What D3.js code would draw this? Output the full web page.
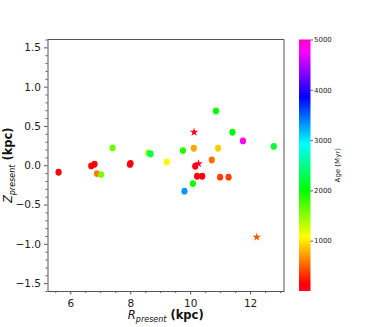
<!DOCTYPE html>
<html>
<head>
<meta charset="utf-8">
<script src="https://cdn.jsdelivr.net/npm/d3@7"></script>
<style>
  body { margin: 0; background: #fff; }
  text { font-family: "DejaVu Sans", sans-serif; }
</style>
</head>
<body>
<svg id="chart" width="382" height="327"></svg>
<script>
// cluster positions
var rValues   = [5.61, 6.70, 6.81, 6.89, 7.03, 7.41, 7.99, 8.01, 8.61, 8.68, 9.22, 9.76, 9.81,
                 10.86, 11.41, 11.76, 12.79, 10.12, 10.93, 10.72, 10.17, 10.23, 10.40, 11.00, 11.28, 10.09];
var zValues   = [-0.089, -0.009, 0.013, -0.106, -0.119, 0.22, 0.010, 0.025, 0.156, 0.144, 0.042, 0.187, -0.33,
                 0.69, 0.42, 0.31, 0.24, 0.216, 0.216, 0.067, -0.013, -0.14, -0.14, -0.152, -0.152, -0.233];
var ageValues = [100, 100, 150, 600, 1550, 1600, 100, 120, 1550, 2250, 1050, 1900, 3300,
                 2000, 2050, 4800, 2200, 750, 900, 550, 50, 100, 150, 380, 380, 1950];

var rStars   = [10.13, 10.28, 12.22];
var zStars   = [0.42, 0.02, -0.915];
var ageStars = [100, 50, 450];

var xTicks = [6, 8, 10, 12];
var yTicks = [-1.5, -1.0, -0.5, 0.0, 0.5, 1.0, 1.5];
var cbTicks = [1000, 2000, 3000, 4000, 5000];

// gist_rainbow
var rainbowStops  = [0.000, 0.030, 0.215, 0.400, 0.586, 0.770, 0.954, 1.000];
var rainbowColors = ["rgb(255,0,41)", "rgb(255,0,0)", "rgb(255,255,0)", "rgb(0,255,0)",
                     "rgb(0,255,255)", "rgb(0,0,255)", "rgb(255,0,255)", "rgb(255,0,191)"];

(function () {

var svg = d3.select("#chart");
var left = 47.5, right = 284, top = 39.5, bottom = 291;

var x = d3.scaleLinear().domain([5.24, 13.13]).range([left, right]);
var y = d3.scaleLinear().domain([-1.6, 1.6]).range([bottom, top]);
var color = d3.scaleLinear()
    .domain(rainbowStops.map(function (s) { return s * 5000; }))
    .range(rainbowColors)
    .clamp(true);

var axisColor = "#555";

// axes
var xAxis = svg.append("g").attr("transform", "translate(0," + bottom + ")")
    .call(d3.axisBottom(x).tickValues(xTicks).tickFormat(d3.format("d")).tickSize(3.5).tickSizeOuter(0));
xAxis.selectAll(".tick text").attr("y", 8.5);
svg.append("g").attr("transform", "translate(0," + bottom + ")")
    .call(d3.axisBottom(x).tickValues(d3.range(5.5, 13.1, 0.5).filter(function (v) { return v % 2 !== 0; }))
        .tickFormat("").tickSize(2).tickSizeOuter(0))
    .select(".domain").remove();

svg.append("g").attr("transform", "translate(" + left + ",0)")
    .call(d3.axisLeft(y).tickValues(yTicks).tickFormat(function (d) { return d3.format(".1f")(d).replace("-", "\u2212"); })
        .tickSize(3.5).tickSizeOuter(0));
svg.append("g").attr("transform", "translate(" + left + ",0)")
    .call(d3.axisLeft(y).tickValues(d3.range(-16, 17).filter(function (v) { return v % 5 !== 0; }).map(function (v) { return v / 10; }))
        .tickFormat("").tickSize(2).tickSizeOuter(0))
    .select(".domain").remove();

svg.selectAll(".tick line").attr("stroke", axisColor);
svg.selectAll(".domain").attr("stroke", axisColor);
svg.selectAll(".tick text").attr("fill", "#222").style("font-size", "10.5px");

// top and right spines
svg.append("line").attr("x1", left).attr("x2", right).attr("y1", top).attr("y2", top).attr("stroke", axisColor);
svg.append("line").attr("x1", right).attr("x2", right).attr("y1", top).attr("y2", bottom).attr("stroke", axisColor);

// circles
var circleData = rValues.map(function (r, i) { return { r: r, z: zValues[i], age: ageValues[i] }; });
svg.append("g").selectAll("ellipse")
    .data(circleData)
    .enter().append("ellipse")
    .attr("cx", function (d) { return x(d.r); })
    .attr("cy", function (d) { return y(d.z); })
    .attr("rx", 3.1)
    .attr("ry", 3.4)
    .attr("fill", function (d) { return color(d.age); });

// stars
var starData = rStars.map(function (r, i) { return { r: r, z: zStars[i], age: ageStars[i] }; });
svg.append("g").selectAll("path")
    .data(starData)
    .enter().append("path")
    .attr("d", d3.symbol().type(d3.symbolStar).size(22))
    .attr("transform", function (d) { return "translate(" + x(d.r) + "," + y(d.z) + ")"; })
    .attr("fill", function (d) { return color(d.age); });

// axis labels
var xl = svg.append("text")
    .attr("x", (left + right) / 2).attr("y", 319)
    .attr("text-anchor", "middle").style("font-size", "11.5px").attr("fill", "#111");
xl.append("tspan").style("font-style", "italic").text("R");
xl.append("tspan").style("font-style", "italic").style("font-size", "8px").attr("dy", 2.5).text("present");
xl.append("tspan").style("font-weight", "bold").attr("dy", -2.5).text(" (kpc)");

var yl = svg.append("text")
    .attr("transform", "translate(12," + ((top + bottom) / 2) + ") rotate(-90)")
    .attr("text-anchor", "middle").style("font-size", "11.5px").attr("fill", "#111");
yl.append("tspan").style("font-style", "italic").text("Z");
yl.append("tspan").style("font-style", "italic").style("font-size", "8px").attr("dy", 2.5).text("present");
yl.append("tspan").style("font-weight", "bold").attr("dy", -2.5).text(" (kpc)");

// colorbar
var cbLeft = 299, cbWidth = 11.5;
var c = d3.scaleLinear().domain([0, 5000]).range([bottom, top]);
var grad = svg.append("defs").append("linearGradient")
    .attr("id", "cbgrad").attr("x1", 0).attr("y1", 1).attr("x2", 0).attr("y2", 0);
grad.selectAll("stop")
    .data(rainbowStops)
    .enter().append("stop")
    .attr("offset", function (d) { return d; })
    .attr("stop-color", function (d, i) { return rainbowColors[i]; });
svg.append("rect")
    .attr("x", cbLeft).attr("y", top).attr("width", cbWidth).attr("height", bottom - top)
    .attr("fill", "url(#cbgrad)");
var cbAxis = svg.append("g").attr("transform", "translate(" + (cbLeft + cbWidth) + ",0)")
    .call(d3.axisRight(c).tickValues(cbTicks).tickFormat(d3.format("d")).tickSize(2.5).tickSizeOuter(0));
cbAxis.select(".domain").remove();
cbAxis.selectAll(".tick line").attr("stroke", axisColor);
cbAxis.selectAll(".tick text").attr("fill", "#222").attr("x", 3.5).style("font-size", "7px");

svg.append("text")
    .attr("transform", "translate(340," + ((top + bottom) / 2) + ") rotate(-90)")
    .attr("text-anchor", "middle").style("font-size", "7px").attr("fill", "#222")
    .text("Age (Myr)");

}());
</script>
</body>
</html>
